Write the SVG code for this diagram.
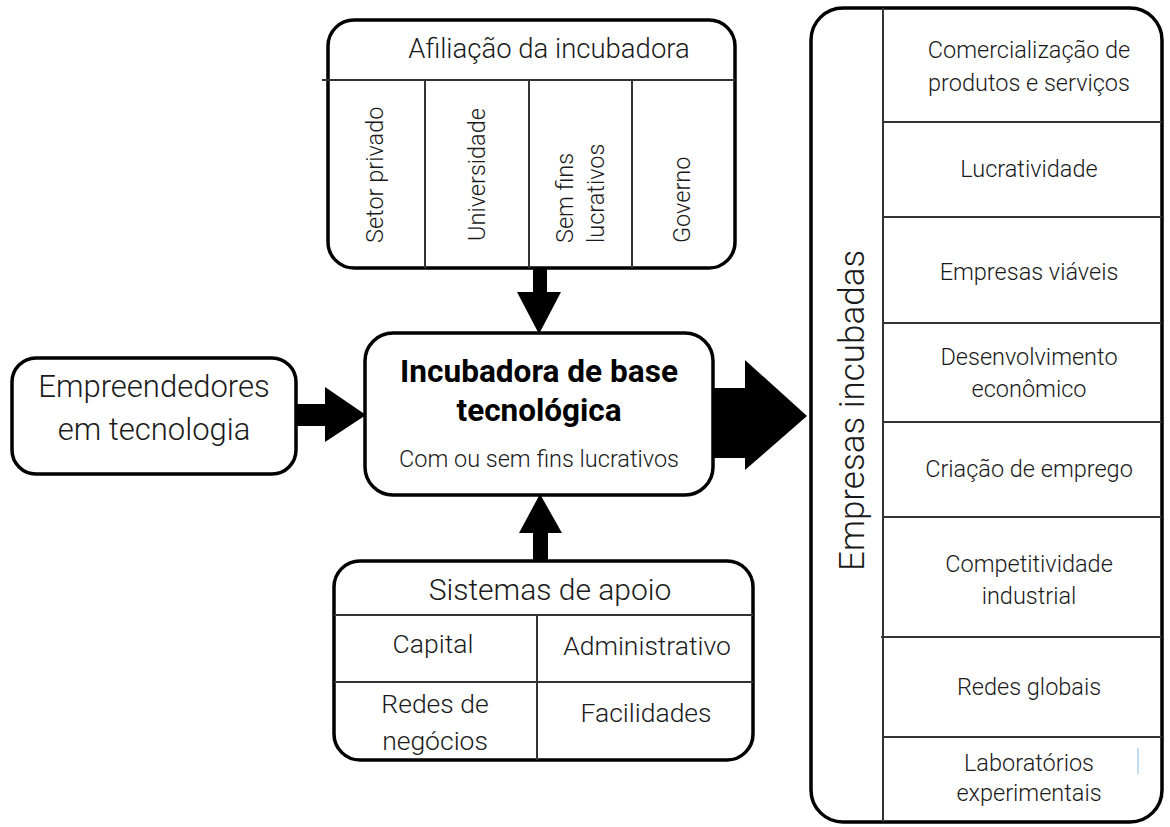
<svg xmlns="http://www.w3.org/2000/svg" width="1170" height="827" viewBox="0 0 1170 827">
  <style>
    .box { fill: #ffffff; stroke: #000000; stroke-width: 3.5; }
    .div { stroke: #333333; stroke-width: 2; fill: none; }
    .arrow { fill: #000000; stroke: none; }
    text { font-family: Roboto, "Liberation Sans", sans-serif; font-weight: 300; fill: #1a1a1a; }
    .c { text-anchor: middle; }
    .head { font-size: 27.5px; }
    .vert { font-size: 23.5px; }
    .cell { font-size: 26.5px; }
    .out { font-size: 23.5px; text-anchor: middle; }
    .title { font-size: 32px; font-weight: bold; text-anchor: middle; fill: #000000; }
  </style>

  <!-- Incubator affiliation -->
  <g id="afiliacao">
    <rect class="box" x="328" y="20" width="407" height="248" rx="26" ry="26"/>
    <line class="div" x1="322" y1="80" x2="735" y2="80"/>
    <line class="div" x1="425" y1="80" x2="425" y2="268"/>
    <line class="div" x1="529" y1="80" x2="529" y2="268"/>
    <line class="div" x1="632" y1="80" x2="632" y2="268"/>
    <text class="head c" x="549" y="58">Afiliação da incubadora</text>
    <text class="vert" transform="translate(383 243) rotate(-90)">Setor privado</text>
    <text class="vert" transform="translate(485 241) rotate(-90)">Universidade</text>
    <text class="vert" transform="translate(573 243) rotate(-90)">Sem fins</text>
    <text class="vert" transform="translate(604 243) rotate(-90)">lucrativos</text>
    <text class="vert" transform="translate(690 243) rotate(-90)">Governo</text>
  </g>

  <!-- Technology entrepreneurs -->
  <g id="empreendedores">
    <rect class="box" x="12" y="358" width="284" height="116" rx="24" ry="24"/>
    <text class="c" x="154" y="397" font-size="31">Empreendedores</text>
    <text class="c" x="154" y="440" font-size="31">em tecnologia</text>
  </g>

  <!-- Technology-based incubator -->
  <g id="incubadora">
    <rect class="box" x="365" y="333" width="348" height="162" rx="28" ry="28"/>
    <text class="title" x="539" y="382" textLength="278" lengthAdjust="spacingAndGlyphs">Incubadora de base</text>
    <text class="title" x="539" y="421" textLength="165" lengthAdjust="spacingAndGlyphs">tecnológica</text>
    <text class="c" x="539" y="467" font-size="23.5">Com ou sem fins lucrativos</text>
  </g>

  <!-- Support systems -->
  <g id="apoio">
    <rect class="box" x="334" y="561" width="419" height="199" rx="26" ry="26"/>
    <line class="div" x1="334" y1="615" x2="753" y2="615"/>
    <line class="div" x1="334" y1="682" x2="753" y2="682"/>
    <line class="div" x1="537" y1="615" x2="537" y2="760"/>
    <text class="c" x="550" y="600" font-size="30">Sistemas de apoio</text>
    <text class="cell c" x="433" y="653">Capital</text>
    <text class="cell c" x="647" y="655">Administrativo</text>
    <text class="cell c" x="435" y="713">Redes de</text>
    <text class="cell c" x="435" y="750">negócios</text>
    <text class="cell c" x="646" y="722">Facilidades</text>
  </g>

  <!-- Incubated companies and outcomes -->
  <g id="empresas">
    <rect class="box" x="811" y="8" width="351" height="814" rx="32" ry="32"/>
    <line class="div" x1="883" y1="8" x2="883" y2="822"/>
    <line class="div" x1="883" y1="122" x2="1162" y2="122"/>
    <line class="div" x1="883" y1="217" x2="1162" y2="217"/>
    <line class="div" x1="883" y1="323" x2="1162" y2="323"/>
    <line class="div" x1="883" y1="422" x2="1162" y2="422"/>
    <line class="div" x1="883" y1="517" x2="1162" y2="517"/>
    <line class="div" x1="881" y1="637" x2="1162" y2="637"/>
    <line class="div" x1="883" y1="737" x2="1162" y2="737"/>
    <text transform="translate(864 571) rotate(-90)" font-size="35">Empresas incubadas</text>
    <text class="out" x="1029" y="58">Comercialização de</text>
    <text class="out" x="1029" y="91">produtos e serviços</text>
    <text class="out" x="1029" y="177">Lucratividade</text>
    <text class="out" x="1029" y="280">Empresas viáveis</text>
    <text class="out" x="1029" y="365">Desenvolvimento</text>
    <text class="out" x="1029" y="397">econômico</text>
    <text class="out" x="1029" y="477">Criação de emprego</text>
    <text class="out" x="1029" y="572">Competitividade</text>
    <text class="out" x="1029" y="604">industrial</text>
    <text class="out" x="1029" y="695">Redes globais</text>
    <text class="out" x="1029" y="771">Laboratórios</text>
    <text class="out" x="1029" y="801">experimentais</text>
    <line x1="1138" y1="748" x2="1138" y2="774" stroke="#9cc8e8" stroke-width="1.2"/>
  </g>

  <!-- Block arrows between the boxes -->
  <g id="connectors">
    <polygon class="arrow" points="533,268 547,268 547,292 561,292 539,334 517,292 533,292"/>
    <polygon class="arrow" points="533,562 548,562 548,533 562,533 540,494 519,533 533,533"/>
    <polygon class="arrow" points="296,404 325,404 325,387 366,415 325,442 325,426 296,426"/>
    <polygon class="arrow" points="712,388 745,388 745,360 807,416 745,470 745,458 712,458"/>
  </g>
</svg>
